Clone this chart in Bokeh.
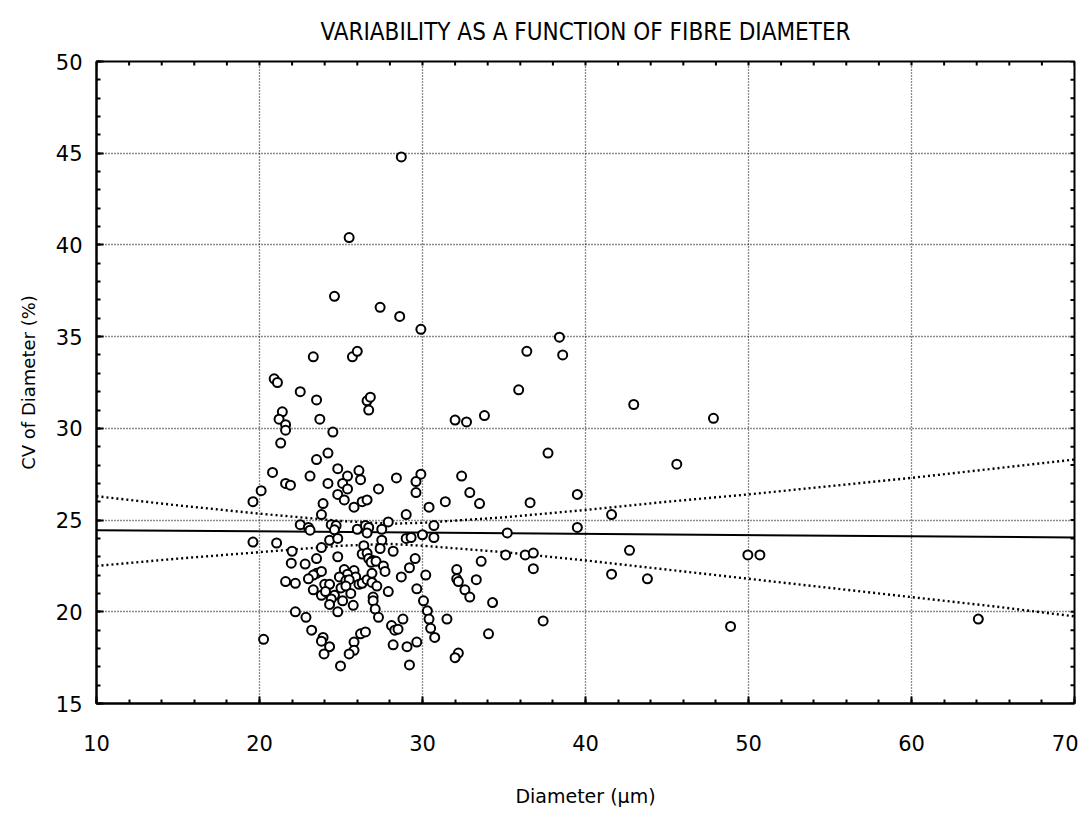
from bokeh.plotting import figure
from bokeh.models import Range1d, FixedTicker, Title
from bokeh.embed import file_html
from bokeh.resources import INLINE

# ---- data ----
diameter = [
    28.7, 25.5, 24.6, 27.4, 28.6, 29.9,
    23.3, 25.7, 26.0, 20.9, 21.1, 22.5, 23.5, 26.6, 26.8, 26.7, 21.4, 21.2, 23.7, 21.6,
    21.6, 24.5, 21.3, 24.2, 23.5, 24.8, 26.1, 20.8, 23.1, 25.4, 26.2, 28.4, 29.9, 29.6,
    21.6, 21.9, 24.2, 25.1, 25.4, 27.3, 20.1, 24.8, 29.6, 25.2, 26.3, 26.6, 19.6, 23.9,
    25.8, 30.4, 23.8, 29.0,
    22.5, 23.0, 23.1, 24.4, 24.7, 24.6, 26.0, 26.5, 26.7, 26.6, 27.5, 27.9, 27.5, 29.0,
    29.3, 30.0, 30.7, 30.7, 19.6, 21.05, 24.3, 24.8, 22.0, 23.8, 26.4, 27.4, 28.2, 24.8,
    26.3, 26.6, 26.7, 26.96, 26.85, 27.15, 27.6, 27.7, 29.55, 29.2, 21.95, 22.8, 23.5, 23.5,
    23.8, 23.3, 23.0, 21.6, 22.2, 25.2, 25.8, 25.4, 25.9, 24.9, 25.3, 25.5, 26.1, 26.3,
    26.6, 26.9, 27.2, 26.9, 28.7, 30.2, 24.0, 24.3, 23.3, 23.8, 24.05, 25.0, 25.3, 25.6,
    24.6, 24.4, 24.3, 25.1, 25.75, 26.97, 26.97, 27.1, 27.3, 27.9, 29.65, 30.06, 22.2, 24.8,
    22.85, 23.2, 20.25, 23.9, 23.8, 24.3, 23.96, 26.2, 26.5, 25.8, 25.8, 25.5, 24.97, 28.1,
    28.3, 28.5, 28.8, 28.2, 29.05, 29.65, 29.2, 30.3, 30.4, 30.5, 30.75,
    38.4, 36.4, 38.6, 35.9, 32.0, 32.7, 33.8, 37.7, 32.4, 32.9, 31.4, 33.5, 36.6, 39.5, 41.6,
    35.2, 39.5, 35.1, 36.3, 36.8, 33.6, 36.8, 32.1, 32.1, 32.2, 33.3, 32.6, 32.9, 34.3,
    41.6, 31.5, 37.4, 34.05, 32.2, 32.0,
    42.96, 47.85, 45.6, 42.7, 43.8, 49.96, 50.7, 48.9, 64.1,
]
cv = [
    44.8, 40.4, 37.2, 36.6, 36.1, 35.4,
    33.9, 33.9, 34.2, 32.7, 32.5, 32.0, 31.55, 31.5, 31.7, 31.0, 30.9, 30.5, 30.5, 30.2,
    29.9, 29.8, 29.2, 28.65, 28.3, 27.8, 27.7, 27.6, 27.4, 27.4, 27.2, 27.3, 27.5, 27.1,
    27.0, 26.9, 27.0, 27.0, 26.7, 26.7, 26.6, 26.4, 26.5, 26.1, 26.0, 26.1, 26.0, 25.9,
    25.7, 25.7, 25.3, 25.3,
    24.75, 24.6, 24.45, 24.75, 24.7, 24.47, 24.5, 24.7, 24.6, 24.3, 24.5, 24.9, 23.9, 24.0,
    24.05, 24.2, 24.7, 24.05, 23.8, 23.75, 23.9, 24.0, 23.3, 23.5, 23.6, 23.45, 23.3, 23.0,
    23.15, 23.2, 22.9, 22.8, 22.7, 22.75, 22.5, 22.2, 22.9, 22.4, 22.65, 22.6, 22.9, 22.1,
    22.2, 22.0, 21.8, 21.65, 21.55, 22.3, 22.25, 22.05, 21.9, 21.9, 21.7, 21.75, 21.5, 21.55,
    21.75, 21.6, 21.4, 22.1, 21.9, 22.0, 21.5, 21.5, 21.2, 20.9, 21.1, 21.3, 21.4, 21.0,
    20.9, 20.7, 20.4, 20.6, 20.35, 20.8, 20.6, 20.15, 19.7, 21.1, 21.25, 20.6, 20.0, 20.0,
    19.7, 19.0, 18.5, 18.6, 18.4, 18.1, 17.7, 18.8, 18.9, 18.35, 17.9, 17.7, 17.05, 19.25,
    19.0, 19.05, 19.6, 18.2, 18.1, 18.35, 17.1, 20.05, 19.6, 19.1, 18.6,
    34.97, 34.2, 34.0, 32.1, 30.45, 30.35, 30.7, 28.65, 27.4, 26.5, 26.0, 25.9, 25.95, 26.4, 25.3,
    24.3, 24.6, 23.1, 23.1, 23.2, 22.75, 22.35, 22.3, 21.8, 21.65, 21.75, 21.2, 20.8, 20.5,
    22.05, 19.6, 19.5, 18.8, 17.75, 17.5,
    31.3, 30.55, 28.05, 23.35, 21.8, 23.1, 23.1, 19.2, 19.6,
]

fit_x = [10, 70]
fit_y = [24.45, 24.05]

band_x = [10, 15, 20, 25, 28, 30, 35, 40, 45, 50, 55, 60, 65, 70]
band_upper = [26.3, 25.8, 25.35, 24.95, 24.8, 24.85, 25.15, 25.55, 26.0, 26.4, 26.85, 27.3, 27.8, 28.3]
band_lower = [22.5, 22.9, 23.25, 23.6, 23.7, 23.6, 23.25, 22.8, 22.3, 21.8, 21.3, 20.8, 20.3, 19.75]

x_ticks = [10, 20, 30, 40, 50, 60, 70]
y_ticks = [15, 20, 25, 30, 35, 40, 45, 50]
x_minor = list(range(10, 71, 2))
y_minor = list(range(15, 51, 1))

FONT = "DejaVu Sans"
X0, X1, Y0, Y1 = 10, 70, 15, 50

p = figure(width=1078, height=814, output_backend="svg", toolbar_location=None,
           x_range=Range1d(X0, X1), y_range=Range1d(Y0, Y1),
           min_border_left=96, min_border_right=4, min_border_top=61, min_border_bottom=111)
p.background_fill_color = "white"
p.border_fill_color = "white"
p.outline_line_color = "black"
p.outline_line_width = 2

p.title = Title(text="VARIABILITY AS A FUNCTION OF FIBRE DIAMETER", align="center",
                text_font="Liberation Sans Narrow, DejaVu Sans Condensed, sans-serif",
                text_font_size="24px", text_font_style="normal", text_color="black",
                standoff=31)

for ax in (p.xaxis[0], p.yaxis[0]):
    ax.axis_line_width = 2
    ax.axis_line_color = "black"
    ax.major_tick_in = 7
    ax.major_tick_out = 0
    ax.minor_tick_in = 4
    ax.minor_tick_out = 0
    ax.major_tick_line_width = 2
    ax.minor_tick_line_width = 2
    ax.major_label_text_font = FONT
    ax.major_label_text_font_size = "21px"
    ax.major_label_text_color = "black"
    ax.axis_label_text_font = FONT
    ax.axis_label_text_font_size = "18px"
    ax.axis_label_text_font_style = "normal"
    ax.axis_label_text_color = "black"

p.xaxis[0].ticker = FixedTicker(ticks=x_ticks, minor_ticks=x_minor)
p.yaxis[0].ticker = FixedTicker(ticks=y_ticks, minor_ticks=y_minor)
p.xaxis[0].axis_label = "Diameter (μm)"
p.yaxis[0].axis_label = "CV of Diameter (%)"
p.xaxis[0].axis_label_text_font_size = "19px"
p.xaxis[0].major_label_standoff = 31
p.xaxis[0].axis_label_standoff = 31
p.yaxis[0].major_label_standoff = 14
p.yaxis[0].axis_label_standoff = 14

p.xgrid.ticker = FixedTicker(ticks=[20, 30, 40, 50, 60])
p.ygrid.ticker = FixedTicker(ticks=[20, 25, 30, 35, 40, 45])
for g in (p.xgrid, p.ygrid):
    g.grid_line_color = "black"
    g.grid_line_alpha = 0.9
    g.grid_line_width = 1.3
    g.grid_line_dash = "1 2"

# inward ticks on the top and right frame edges
tick_dy = (Y1 - Y0) * 4 / 642
tick_dx = (X1 - X0) * 4 / 978
p.segment(x0=x_minor, y0=[Y1] * len(x_minor), x1=x_minor, y1=[Y1 - tick_dy] * len(x_minor),
          line_color="black", line_width=2)
p.segment(x0=[X1] * len(y_minor), y0=y_minor, x1=[X1 - tick_dx] * len(y_minor), y1=y_minor,
          line_color="black", line_width=2)

p.line(band_x, band_upper, line_color="black", line_width=2.4, line_dash="2 3")
p.line(band_x, band_lower, line_color="black", line_width=2.4, line_dash="2 3")
p.line(fit_x, fit_y, line_color="black", line_width=2)

p.scatter(diameter, cv, marker="circle", size=9, fill_color="white",
          line_color="black", line_width=2)

open("out.html", "w").write(file_html(p, INLINE))
